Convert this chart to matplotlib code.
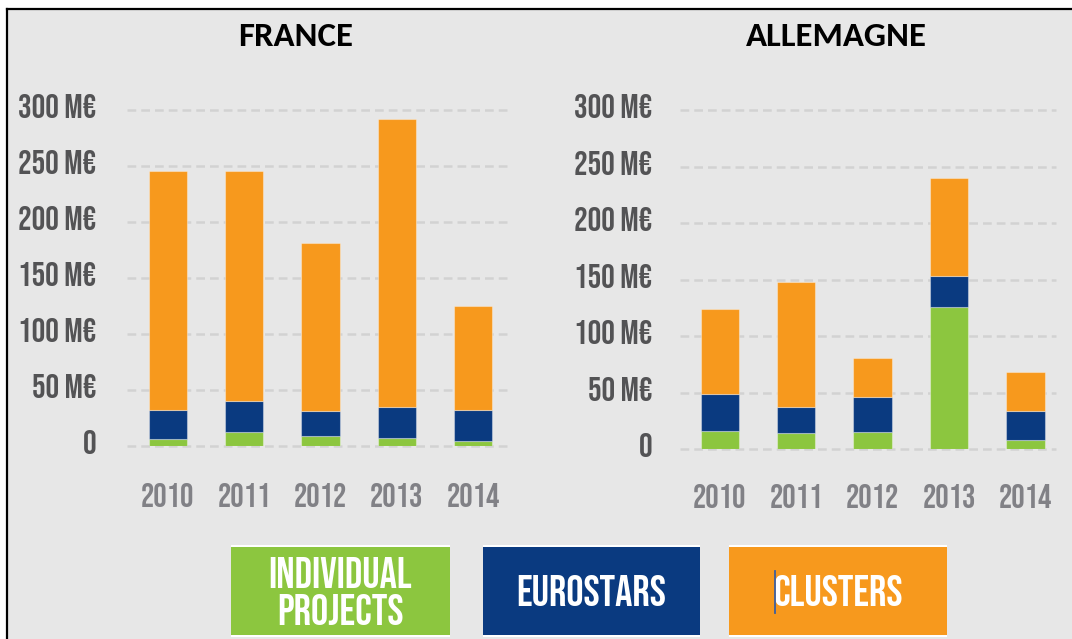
import matplotlib.pyplot as plt
from matplotlib.patches import Rectangle
from matplotlib.lines import Line2D
import matplotlib.transforms as mtransforms

W, H = 1072, 639

years = ["2010", "2011", "2012", "2013", "2014"]
tick_vals = [0, 50, 100, 150, 200, 250, 300]
tick_labels = ["0", "50 M€", "100 M€", "150 M€", "200 M€", "250 M€", "300 M€"]

# France (M€)
fr_individual = [6, 12, 9, 7, 4]
fr_eurostars = [26, 28, 22, 28, 28]
fr_clusters = [214, 206, 150, 257, 93]

# Allemagne (M€)
de_individual = [16, 14, 15, 126, 8]
de_eurostars = [33, 23, 31, 27, 26]
de_clusters = [75, 111, 35, 87, 34]

GREEN = "#8cc63f"
BLUE = "#0a3a80"
ORANGE = "#f7991d"
BG = "#e7e7e7"

NARROW = ["Bebas Neue", "Oswald", "Roboto Condensed", "Liberation Sans Narrow", "DejaVu Sans"]
TITLE_FONT = ["Carlito", "Liberation Sans", "DejaVu Sans"]

fig = plt.figure(figsize=(W / 100, H / 100), dpi=100)
fig.patch.set_facecolor("white")


def fx(px):
    return px / W


def fy(py):
    return 1 - py / H


# background panel with black frame on left and top
fig.patches.append(Rectangle((fx(8), 0), 1 - fx(8), fy(10), transform=fig.transFigure,
                             facecolor=BG, edgecolor="none", zorder=-5))
fig.lines.append(Line2D([fx(7), fx(7)], [0, fy(9)], transform=fig.transFigure,
                        color="black", lw=1.6))
fig.lines.append(Line2D([fx(7), 1], [fy(9), fy(9)], transform=fig.transFigure,
                        color="black", lw=1.6))


def panel(rect, xlim, green, blue, orange, title, title_x, ypad, xpad):
    ax = fig.add_axes(rect)
    ax.set_facecolor("none")
    x = list(range(len(years)))
    bottom2 = [g + b for g, b in zip(green, blue)]
    edge = dict(edgecolor=(1, 1, 1, 0.35), linewidth=0.8, zorder=3)
    ax.bar(x, green, width=0.5, color=GREEN, **edge)
    ax.bar(x, blue, width=0.5, bottom=green, color=BLUE, **edge)
    ax.bar(x, orange, width=0.5, bottom=bottom2, color=ORANGE, **edge)
    for v in tick_vals:
        ax.axhline(v, color="#d2d2d2", lw=1.8, ls=(0, (3.5, 2)), zorder=1, clip_on=False)
    ax.set_xlim(*xlim)
    ax.set_ylim(0, 300)
    for s in ax.spines.values():
        s.set_visible(False)
    ax.set_yticks([])
    off = mtransforms.ScaledTranslation(-ypad / 100, 4 / 100, fig.dpi_scale_trans)
    for v, lab in zip(tick_vals, tick_labels):
        ax.text(0, v, lab, transform=ax.get_yaxis_transform() + off, ha="right",
                va="center", family=NARROW, fontsize=24.5, color="#535355")
    ax.set_xticks(x)
    ax.set_xticklabels(years, family=NARROW, fontsize=24, color="#818186")
    ax.tick_params(axis="x", length=0, pad=xpad)
    fig.text(fx(title_x), fy(37), title, ha="center", va="center", fontsize=25,
             fontweight="bold", family=TITLE_FONT, color="black")
    return ax


panel([fx(127.4), fy(445.7), fx(512) - fx(127.4), fy(110.3) - fy(445.7)],
      (-0.53, 4.51), fr_individual, fr_eurostars, fr_clusters, "FRANCE", 296, 31, 27)
panel([fx(680), fy(449), fx(1056) - fx(680), fy(110.3) - fy(449)],
      (-0.52, 4.4), de_individual, de_eurostars, de_clusters, "ALLEMAGNE", 836, 28, 25)

# legend boxes
legend = [("INDIVIDUAL\nPROJECTS", GREEN, 231, 450),
          ("EUROSTARS", BLUE, 483, 700),
          ("CLUSTERS", ORANGE, 729, 947)]
for label, col, x0, x1 in legend:
    fig.patches.append(Rectangle((fx(x0), fy(637)), fx(x1) - fx(x0), fy(545) - fy(637),
                                 transform=fig.transFigure, facecolor="white",
                                 edgecolor="none", zorder=1))
    fig.patches.append(Rectangle((fx(x0), fy(635)), fx(x1) - fx(x0), fy(547) - fy(635),
                                 transform=fig.transFigure, facecolor=col,
                                 edgecolor="none", zorder=2))
    fig.text(fx((x0 + x1) / 2), fy(591), label, ha="center", va="center", fontsize=31,
             family=NARROW, color="white", linespacing=1.2, zorder=3)

# text cursor in the clusters box
fig.lines.append(Line2D([fx(775), fx(775)], [fy(613), fy(571)], transform=fig.transFigure,
                        color="#3d5f9e", lw=1.3, zorder=4))

fig.savefig("out.png", dpi=100, facecolor=fig.get_facecolor())
